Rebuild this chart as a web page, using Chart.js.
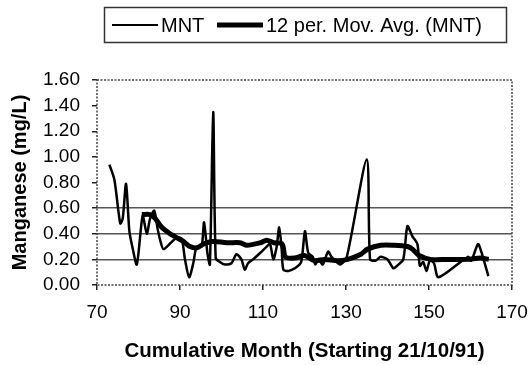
<!DOCTYPE html>
<html lang="en">
<head>
    <meta charset="UTF-8">
    <title>Manganese</title>
    <script src="https://cdn.jsdelivr.net/npm/chart.js"></script>
    <style>
        body { margin: 0; background: #fff; }
        #wrap { width: 529px; height: 365px; }
    </style>
</head>
<body>
    <div id="wrap"><canvas id="mnChart" width="529" height="365"></canvas></div>

    <script>
        // MNT readings (cumulative month, mg/L)
        const mntMonths = [73, 74.2, 75.6, 76.2, 77, 77.8, 78.5, 79.6, 81, 82, 82.8, 83.8, 84.6, 85.3, 86,
            87.8, 89.2, 90.4, 91.2, 92.2, 93.2, 94, 95.2, 95.8, 96.6, 97.2, 98.0, 98.6, 99.6, 100.8,
            102.4, 103.6, 104.8, 105.6, 106.4, 107.6, 109.3, 110.9, 111.7, 112.5, 113.3, 113.9, 114.5, 114.9,
            116.1, 117.7, 119.2, 120.1, 120.9, 122, 122.6, 123.4, 124.4, 125.7, 126.5, 128.6, 130.2,
            135.0, 135.8, 137.2, 138.3, 140, 141.4, 142.3, 143.8, 144.8, 146, 147.2, 147.8, 148.6, 149.4,
            150.2, 151.2, 152.3, 159.4, 160.2, 161.8, 162.6, 164.3];
        const mntValues = [0.94, 0.82, 0.48, 0.52, 0.79, 0.42, 0.30, 0.16, 0.54, 0.40, 0.52, 0.58, 0.44, 0.34, 0.28,
            0.33, 0.37, 0.36, 0.20, 0.06, 0.17, 0.30, 0.30, 0.49, 0.25, 0.16, 1.35, 0.21, 0.18, 0.16,
            0.17, 0.24, 0.20, 0.12, 0.17, 0.20, 0.25, 0.30, 0.32, 0.20, 0.30, 0.45, 0.28, 0.12,
            0.11, 0.13, 0.18, 0.42, 0.25, 0.22, 0.16, 0.20, 0.16, 0.26, 0.22, 0.16, 0.22,
            0.98, 0.20, 0.19, 0.22, 0.20, 0.13, 0.15, 0.20, 0.46, 0.38, 0.32, 0.15, 0.18, 0.11,
            0.19, 0.17, 0.06, 0.22, 0.19, 0.32, 0.26, 0.07];

        // 12 per. moving average as drawn
        const avgMonths = [80.8, 82.8, 84, 85.6, 87.6, 89.2, 90.8, 92.4, 94, 95.7, 97.7, 101.3, 104.5, 106.1,
            109.4, 110.9, 112.6, 114.6, 115.4, 117.6, 120, 122.4, 124.8, 128, 130.4, 133.6, 135.2, 138.4,
            141.6, 144.8, 146, 147.6, 150.4, 154.4, 159.2, 162.4, 164.4];
        const avgValues = [0.55, 0.55, 0.52, 0.45, 0.40, 0.37, 0.34, 0.30, 0.29, 0.32, 0.34, 0.33, 0.33, 0.31,
            0.33, 0.35, 0.33, 0.32, 0.22, 0.21, 0.23, 0.19, 0.20, 0.19, 0.20, 0.24, 0.28, 0.31,
            0.31, 0.30, 0.28, 0.23, 0.20, 0.20, 0.20, 0.21, 0.20];

        const xTicks = [70, 90, 110, 130, 150, 170];
        const yTicks = [0, 0.2, 0.4, 0.6, 0.8, 1.0, 1.2, 1.4, 1.6];
        const shownGrid = [0.2, 0.4, 0.6];

        const FONT = "'Liberation Sans', Arial, Helvetica, sans-serif";

        function toPoints(xs, ys) {
            return xs.map((x, i) => ({ x: x, y: ys[i] }));
        }

        // dashed plot frame + boxed legend
        const framePlugin = {
            id: 'frame',
            afterDraw(chart) {
                const { ctx, chartArea: a } = chart;
                ctx.save();
                ctx.strokeStyle = '#444';
                ctx.lineWidth = 1.5;
                ctx.setLineDash([2, 1.5]);
                ctx.strokeRect(a.left, a.top, a.right - a.left, a.bottom - a.top);
                ctx.setLineDash([]);

                // legend
                ctx.strokeStyle = '#333';
                ctx.lineWidth = 1.5;
                ctx.strokeRect(104.5, 7.5, 402, 35);
                const ly = 25;
                chart.data.datasets.forEach((ds, i) => {
                    const x0 = i === 0 ? 112 : 217;
                    ctx.strokeStyle = '#000';
                    ctx.lineWidth = i === 0 ? 2 : 5;
                    ctx.beginPath();
                    ctx.moveTo(x0, ly);
                    ctx.lineTo(x0 + 46, ly);
                    ctx.stroke();
                    ctx.fillStyle = '#000';
                    ctx.font = '20px ' + FONT;
                    ctx.textBaseline = 'middle';
                    ctx.fillText(ds.label, x0 + 49, ly + 1);
                });
                ctx.restore();
            }
        };

        new Chart(document.getElementById('mnChart'), {
            type: 'line',
            data: {
                datasets: [
                    {
                        label: 'MNT',
                        data: toPoints(mntMonths, mntValues),
                        borderColor: '#000',
                        borderWidth: 2.5,
                        pointRadius: 0,
                        tension: 0.25
                    },
                    {
                        label: '12 per. Mov. Avg. (MNT)',
                        data: toPoints(avgMonths, avgValues),
                        borderColor: '#000',
                        borderWidth: 5,
                        pointRadius: 0,
                        tension: 0.3
                    }
                ]
            },
            options: {
                responsive: false,
                animation: false,
                layout: { padding: { top: 80, right: 17, left: 0, bottom: 0 } },
                plugins: { legend: { display: false }, tooltip: { enabled: false } },
                scales: {
                    x: {
                        type: 'linear',
                        min: 70,
                        max: 170,
                        afterFit(scale) {
                            scale.height = 80;
                            scale.paddingLeft = 0;
                            scale.paddingRight = 0;
                        },
                        afterBuildTicks(scale) { scale.ticks = xTicks.map(v => ({ value: v })); },
                        border: { display: false },
                        grid: { drawOnChartArea: false, tickLength: 5, tickColor: '#222', lineWidth: 1.5 },
                        ticks: { color: '#000', padding: 11, autoSkip: false, maxRotation: 0, font: { family: FONT, size: 19 } },
                        title: {
                            display: true,
                            text: 'Cumulative Month (Starting 21/10/91)',
                            color: '#000',
                            font: { family: FONT, size: 20.5, weight: 'bold' },
                            padding: { top: 0, bottom: 1 }
                        }
                    },
                    y: {
                        min: 0,
                        max: 1.6,
                        afterFit(scale) { scale.width = 97; },
                        afterBuildTicks(scale) { scale.ticks = yTicks.map(v => ({ value: v })); },
                        border: { display: false },
                        grid: {
                            color: ctx => shownGrid.some(g => Math.abs(ctx.tick.value - g) < 1e-6) ? '#555' : 'rgba(0,0,0,0)',
                            lineWidth: 1.5,
                            tickLength: 5,
                            tickColor: '#222'
                        },
                        ticks: {
                            color: '#000',
                            padding: 12,
                            autoSkip: false,
                            font: { family: FONT, size: 19 },
                            callback: v => v.toFixed(2)
                        },
                        title: {
                            display: true,
                            text: 'Manganese (mg/L)',
                            color: '#000',
                            font: { family: FONT, size: 20, weight: 'bold' },
                            padding: { top: 8, bottom: 0 }
                        }
                    }
                }
            },
            plugins: [framePlugin]
        });
    </script>
</body>
</html>
